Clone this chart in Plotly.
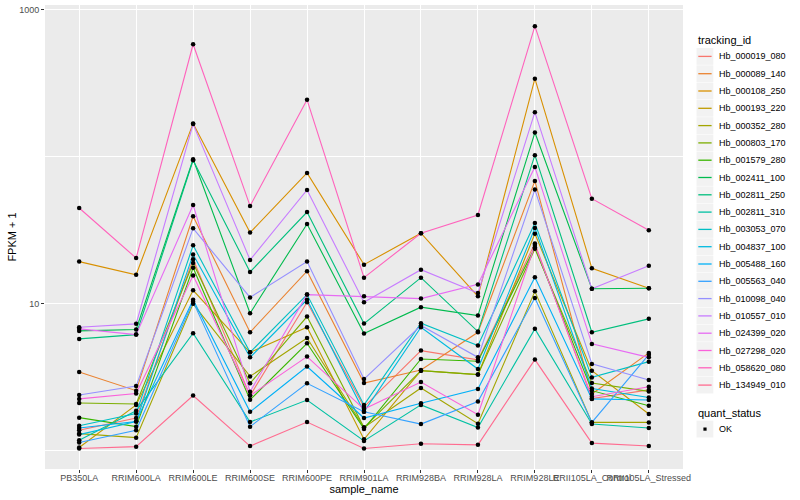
import plotly.graph_objects as go

samples = ["PB350LA", "RRIM600LA", "RRIM600LE", "RRIM600SE", "RRIM600PE",
           "RRIM901LA", "RRIM928BA", "RRIM928LA", "RRIM928LE",
           "RRII105LA_Control", "RRII105LA_Stressed"]

tracking_ids = ["Hb_000019_080", "Hb_000089_140", "Hb_000108_250", "Hb_000193_220",
                "Hb_000352_280", "Hb_000803_170", "Hb_001579_280", "Hb_002411_100",
                "Hb_002811_250", "Hb_002811_310", "Hb_003053_070", "Hb_004837_100",
                "Hb_005488_160", "Hb_005563_040", "Hb_010098_040", "Hb_010557_010",
                "Hb_024399_020", "Hb_027298_020", "Hb_058620_080", "Hb_134949_010"]

# FPKM + 1 values per tracking_id, in sample order
hb_000019_080 = [1.37, 1.66, 20.0, 2.36, 10.2, 1.98, 4.78, 4.13, 25.6, 2.25, 2.58]
hb_000089_140 = [3.42, 2.55, 39.3, 6.37, 16.6, 2.87, 3.53, 6.37, 68.4, 2.42, 4.61]
hb_000108_250 = [19.3, 15.7, 168.5, 30.4, 77.5, 18.4, 30.1, 11.2, 340.0, 17.4, 12.7]
hb_000193_220 = [1.045, 2.04, 12.3, 4.65, 6.89, 1.19, 3.49, 3.28, 29.9, 3.49, 1.77]
hb_000352_280 = [1.30, 1.22, 9.95, 3.19, 5.83, 1.43, 2.66, 1.52, 12.1, 1.55, 1.55]
hb_000803_170 = [2.10, 2.07, 18.9, 2.86, 8.15, 1.43, 3.49, 3.28, 23.6, 2.87, 2.52]
hb_001579_280 = [1.67, 1.45, 17.5, 2.21, 5.36, 1.40, 4.19, 4.04, 24.2, 2.55, 2.01]
hb_002411_100 = [6.51, 6.65, 96.1, 8.59, 34.8, 6.24, 9.44, 8.28, 146.0, 12.6, 12.7]
hb_002811_250 = [5.74, 6.14, 94.6, 16.4, 42.0, 7.30, 15.0, 6.44, 102.4, 6.37, 7.86]
hb_002811_310 = [1.17, 1.86, 6.27, 1.56, 2.20, 1.16, 2.04, 1.43, 6.72, 1.51, 1.42]
hb_003053_070 = [1.47, 1.78, 24.9, 4.65, 11.5, 2.04, 7.34, 5.17, 35.3, 3.14, 4.02]
hb_004837_100 = [1.28, 1.57, 21.6, 4.30, 10.6, 1.83, 6.89, 3.58, 32.7, 2.64, 2.29]
hb_005488_160 = [1.42, 1.57, 10.6, 1.83, 3.72, 1.66, 2.09, 2.62, 15.1, 2.24, 2.20]
hb_005563_040 = [1.13, 1.37, 10.3, 1.45, 2.86, 1.83, 1.51, 2.15, 10.9, 1.55, 4.48]
hb_010098_040 = [2.38, 2.74, 32.5, 11.0, 19.3, 3.06, 7.08, 4.30, 59.7, 3.88, 3.01]
hb_010557_010 = [6.89, 7.27, 166.7, 19.8, 59.3, 10.2, 17.0, 11.8, 201.0, 12.6, 18.1]
hb_024399_020 = [6.72, 6.14, 46.9, 2.51, 11.5, 11.2, 10.8, 13.5, 85.2, 5.31, 4.30]
hb_027298_020 = [2.24, 2.44, 15.5, 2.36, 4.35, 1.91, 2.92, 1.75, 25.0, 2.32, 2.71]
hb_058620_080 = [44.7, 20.4, 583.0, 46.2, 244.0, 15.0, 30.1, 40.1, 774.0, 51.8, 31.5]
hb_134949_010 = [1.03, 1.06, 2.36, 1.07, 1.56, 1.03, 1.11, 1.09, 4.15, 1.12, 1.07]

series_values = [hb_000019_080, hb_000089_140, hb_000108_250, hb_000193_220,
                 hb_000352_280, hb_000803_170, hb_001579_280, hb_002411_100,
                 hb_002811_250, hb_002811_310, hb_003053_070, hb_004837_100,
                 hb_005488_160, hb_005563_040, hb_010098_040, hb_010557_010,
                 hb_024399_020, hb_027298_020, hb_058620_080, hb_134949_010]

colors = ["#F8766D", "#EA8331", "#D89000", "#C09B00", "#A3A500", "#7CAE00",
          "#39B600", "#00BB4E", "#00BF7D", "#00C1A3", "#00BFC4", "#00BAE0",
          "#00B0F6", "#35A2FF", "#9590FF", "#C77CFF", "#E76BF3", "#FA62DB",
          "#FF62BC", "#FF6C90"]

FONT = "Liberation Sans, Arial, sans-serif"

fig = go.Figure()
for name, vals, col in zip(tracking_ids, series_values, colors):
    fig.add_trace(go.Scatter(x=samples, y=vals, mode="lines", name=name,
                             line=dict(color=col, width=1.1), showlegend=False))
for name, vals in zip(tracking_ids, series_values):
    fig.add_trace(go.Scatter(x=samples, y=vals, mode="markers", name=name,
                             marker=dict(color="black", size=4.5), showlegend=False))

# panel geometry in pixels (for the hand-built legend)
PL, PR, PT, PB = 45, 683, 5, 469
def xp(px):
    return (px - PL) / (PR - PL)
def yp(py):
    return (PB - py) / (PB - PT)

shapes = []
annotations = []
annotations.append(dict(x=xp(696), y=yp(40.5), xref="paper", yref="paper", text="tracking_id",
                        showarrow=False, xanchor="left", yanchor="middle",
                        font=dict(family=FONT, size=11, color="black")))
for i, (name, col) in enumerate(zip(tracking_ids, colors)):
    c = 56.4 + 17.3 * i
    shapes.append(dict(type="rect", xref="paper", yref="paper",
                       x0=xp(696.5), x1=xp(713.3), y0=yp(c + 8.4), y1=yp(c - 8.4),
                       fillcolor="#F2F2F2", line=dict(width=0), layer="above"))
    shapes.append(dict(type="line", xref="paper", yref="paper",
                       x0=xp(698.3), x1=xp(711.6), y0=yp(c), y1=yp(c),
                       line=dict(color=col, width=1.3), layer="above"))
    annotations.append(dict(x=xp(716.5), y=yp(c), xref="paper", yref="paper", text=name,
                            showarrow=False, xanchor="left", yanchor="middle",
                            font=dict(family=FONT, size=9, color="black")))

annotations.append(dict(x=xp(696), y=yp(412.5), xref="paper", yref="paper", text="quant_status",
                        showarrow=False, xanchor="left", yanchor="middle",
                        font=dict(family=FONT, size=11, color="black")))
shapes.append(dict(type="rect", xref="paper", yref="paper",
                   x0=xp(696.5), x1=xp(713.3), y0=yp(437.5), y1=yp(420.7),
                   fillcolor="#F2F2F2", line=dict(width=0), layer="above"))
shapes.append(dict(type="rect", xref="paper", yref="paper",
                   x0=xp(703.4), x1=xp(706.6), y0=yp(430.7), y1=yp(427.5),
                   fillcolor="black", line=dict(width=0), layer="above"))
annotations.append(dict(x=xp(716.5), y=yp(429.1), xref="paper", yref="paper", text="OK",
                        showarrow=False, xanchor="left", yanchor="middle",
                        font=dict(family=FONT, size=9, color="black")))

fig.update_layout(
    width=800, height=500,
    margin=dict(l=PL, r=800 - PR, t=PT, b=500 - PB, autoexpand=False),
    paper_bgcolor="white", plot_bgcolor="#EBEBEB",
    font=dict(family=FONT, size=9, color="#4D4D4D"),
    shapes=shapes, annotations=annotations,
    showlegend=False,
)
fig.update_xaxes(
    type="category", categoryorder="array", categoryarray=samples,
    range=[-0.6, len(samples) - 0.4],
    showgrid=True, gridcolor="white", gridwidth=1.1, zeroline=False,
    ticks="outside", ticklen=3, tickcolor="#333333", tickwidth=1,
    tickangle=0, tickfont=dict(family=FONT, size=9, color="#4D4D4D"),
    ticklabelstandoff=-3,
    title=dict(text="sample_name", font=dict(family=FONT, size=11, color="black"), standoff=0),
    automargin=False, showline=False,
)
fig.update_yaxes(
    type="log", range=[-0.127, 3.033],
    tickvals=[10, 1000], ticktext=["10", "1000"],
    showgrid=True, gridcolor="white", gridwidth=1.1, zeroline=False,
    ticks="outside", ticklen=3, tickcolor="#333333", tickwidth=1,
    tickfont=dict(family=FONT, size=9, color="#4D4D4D"),
    minor=dict(tickvals=[1, 100], showgrid=True, gridcolor="white", gridwidth=0.55, ticks=""),
    title=dict(text="FPKM + 1", font=dict(family=FONT, size=11, color="black"), standoff=0),
    automargin=False, showline=False,
)

fig.write_html("out.html", config={"displayModeBar": False},
               post_script="document.body.style.margin='0';document.body.style.overflow='hidden';")
